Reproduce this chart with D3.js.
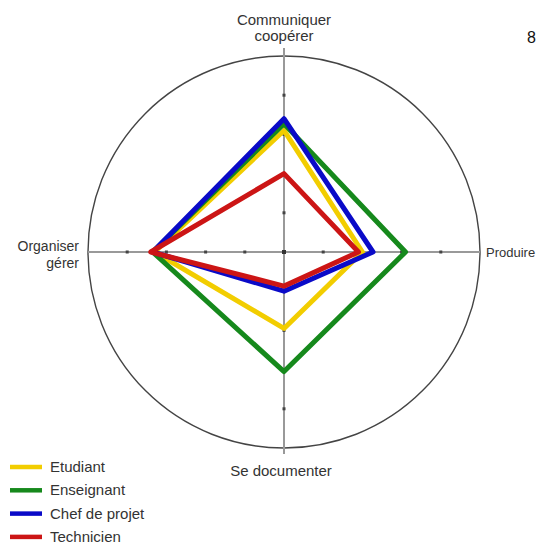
<!DOCTYPE html>
<html>
<head>
<meta charset="utf-8">
<script src="https://cdn.jsdelivr.net/npm/d3@7"></script>
<style>
  body { margin: 0; background: #fff; }
  svg { display: block; font-family: "Liberation Sans", Arial, sans-serif; }
</style>
</head>
<body>
<div id="chart"></div>
<script>
// axes, clockwise from the top
const axes = ['Communiquer coopérer', 'Produire', 'Se documenter', 'Organiser gérer'];

const series = ['Etudiant', 'Enseignant', 'Chef de projet', 'Technicien'];
const colors = ['#f2cd00', '#16891c', '#0a0ac8', '#cc1515'];

// values per series, same order as axes (scale 0..5)
const etudiant = [3.1, 2.0, 1.95, 3.3];
const enseignant = [3.27, 3.1, 3.05, 3.35];
const chefProjet = [3.4, 2.27, 1.0, 3.35];
const technicien = [2.0, 1.9, 0.87, 3.4];
const values = [etudiant, enseignant, chefProjet, technicien];

const tickValues = [1, 2, 3, 4];

const width = 538
const height = 544
const cx = 284
const cy = 252
const radius = 196

const svg = d3.select('#chart')
    .append('svg')
    .attr('width', width)
    .attr('height', height);

const rScale = d3.scaleLinear()
    .domain([0, 5])
    .range([0, radius]);

const angle = d3.scaleLinear()
    .domain([0, axes.length])
    .range([0, 2 * Math.PI]);

const g = svg.append('g')
    .attr('transform', `translate(${cx},${cy})`);

// outer circle
g.append('circle')
    .attr('r', rScale(5))
    .attr('fill', 'none')
    .attr('stroke', '#444')
    .attr('stroke-width', 1.4);

// axis lines
g.append('line')
    .attr('x1', 0).attr('x2', 0)
    .attr('y1', -rScale(5) - 8).attr('y2', rScale(5) + 6)
    .attr('stroke', '#999').attr('stroke-width', 2);
g.append('line')
    .attr('x1', -rScale(5)).attr('x2', rScale(5))
    .attr('y1', 0).attr('y2', 0)
    .attr('stroke', '#999').attr('stroke-width', 2);

// tick marks on the axes
tickValues.forEach(t => {
    [-1, 1].forEach(s => {
        g.append('rect')
            .attr('x', s * rScale(t) - 1.5).attr('y', -1.5)
            .attr('width', 3).attr('height', 3)
            .attr('fill', '#444');
        g.append('rect')
            .attr('x', -1.5).attr('y', s * rScale(t) - 1.5)
            .attr('width', 3).attr('height', 3)
            .attr('fill', '#444');
    });
});
g.append('rect')
    .attr('x', -2).attr('y', -2)
    .attr('width', 4).attr('height', 4)
    .attr('fill', '#333');

// series polygons
const radar = d3.lineRadial()
    .angle((d, i) => angle(i))
    .radius(d => rScale(d))
    .curve(d3.curveLinearClosed);

g.selectAll('path.serie')
    .data(values)
    .enter()
    .append('path')
    .attr('class', 'serie')
    .attr('d', radar)
    .attr('fill', 'none')
    .attr('stroke', (d, i) => colors[i])
    .attr('stroke-width', 5)
    .attr('stroke-linejoin', 'round');

// axis labels
const labelStyle = t => t.attr('font-size', 15).attr('fill', '#333');

svg.append('text').attr('x', cx).attr('y', 25).attr('text-anchor', 'middle')
    .text('Communiquer').call(labelStyle);
svg.append('text').attr('x', cx).attr('y', 41).attr('text-anchor', 'middle')
    .text('coopérer').call(labelStyle);

svg.append('text').attr('x', 79).attr('y', 251).attr('text-anchor', 'end')
    .text('Organiser').call(labelStyle).attr('font-size', 14);
svg.append('text').attr('x', 79).attr('y', 268).attr('text-anchor', 'end')
    .text('gérer').call(labelStyle).attr('font-size', 14);

svg.append('text').attr('x', 486).attr('y', 257)
    .text('Produire').call(labelStyle).attr('font-size', 13);

svg.append('text').attr('x', 281).attr('y', 476).attr('text-anchor', 'middle')
    .text('Se documenter').call(labelStyle);

svg.append('text').attr('x', 527).attr('y', 43)
    .attr('font-size', 16).attr('fill', '#111')
    .text('8');

// legend
const legend = svg.append('g')
    .attr('transform', 'translate(10,467)');

series.forEach((name, i) => {
    const row = legend.append('g')
        .attr('transform', `translate(0,${i * 23.3})`);
    row.append('line')
        .attr('x1', 0).attr('x2', 32)
        .attr('y1', 0).attr('y2', 0)
        .attr('stroke', colors[i])
        .attr('stroke-width', 4.5);
    row.append('text')
        .attr('x', 40).attr('y', 5)
        .attr('font-size', 15)
        .attr('fill', '#333')
        .text(name);
});
</script>
</body>
</html>
